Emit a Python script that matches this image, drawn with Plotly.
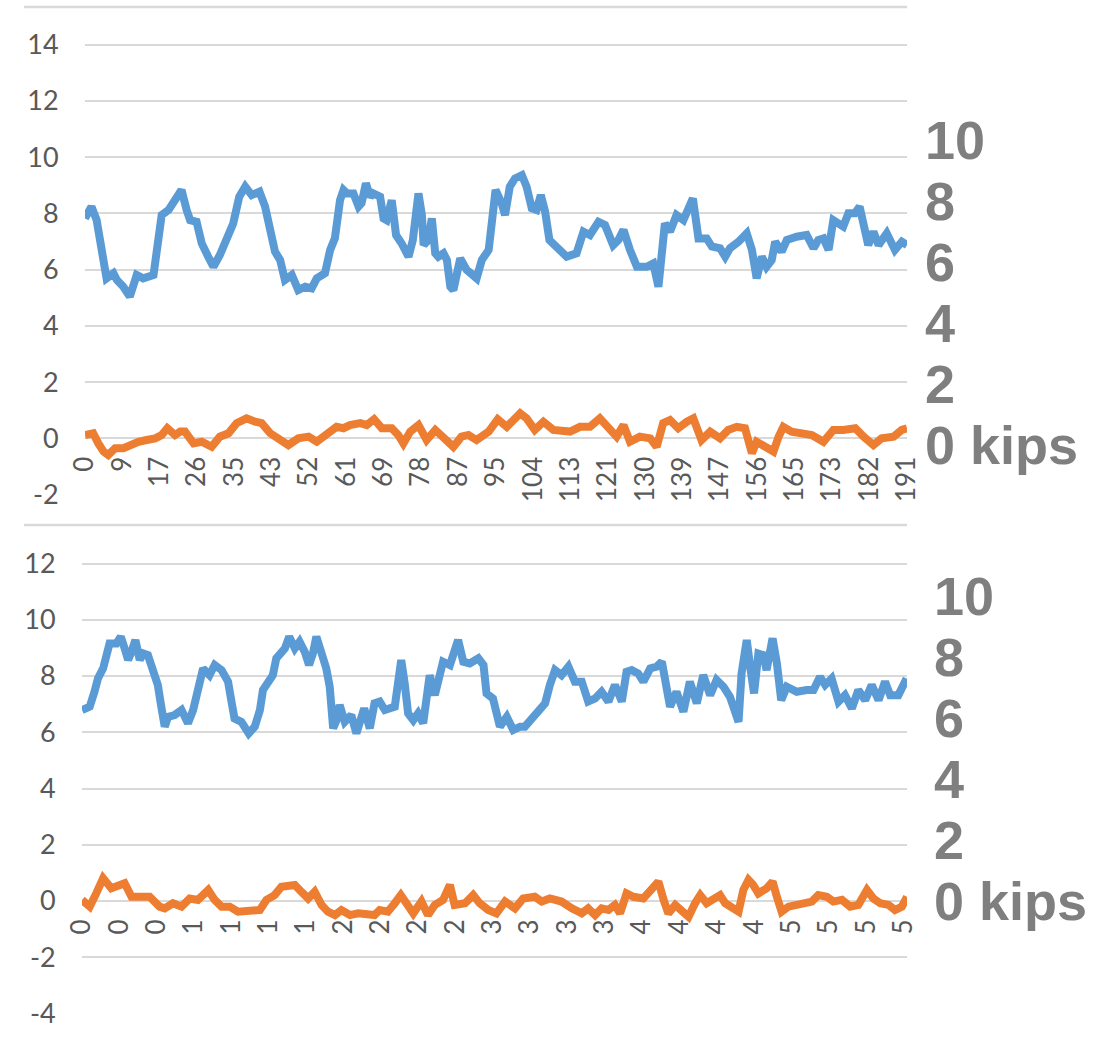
import plotly.graph_objects as go

# ---------------- data ----------------
# top chart (x in samples)
top_blue_x = [0, 1.5, 2.7, 5, 6.6, 7.4, 8.9, 10.4, 12, 13.5,
              15.9, 17, 17.8, 19.4, 21.3, 22.4, 23.6, 24.4, 25.9, 27.1,
              28.6, 29.8, 31.3, 32.9, 34.4, 35.8, 37.2, 38.7, 40.5, 41.8,
              43, 44.1, 45.3, 46.4, 48, 49.5, 51.1, 52.6, 53.8, 55.7,
              56.9, 58, 59.2, 60, 60.8, 62.3, 63.5, 64.2, 65.2, 66.2,
              66.9, 68.5, 69.3, 70, 71.2, 72.2, 73.5, 75.1, 76.1, 77.4,
              78.2, 78.6, 79.7, 80.5, 81.3, 82, 83.2, 84, 84.8, 85.5,
              87.1, 88.6, 90.9, 92.1, 93.7, 95.3, 96.7, 97.5, 98.6, 99.8,
              101.4, 102.5, 103.7, 104.8, 105.8, 106.8, 107.8, 109.5, 111.8, 114.1,
              115.7, 117.2, 119.2, 120.7, 122.6, 123.8, 125, 126.5, 128.1, 130.4,
              131.9, 133.1, 133.9, 134.6, 135.8, 137.3, 138.9, 140, 141.1, 142.4,
              144.3, 145.5, 147.4, 148.6, 149.7, 151.7, 153.6, 154.8, 155.9, 157.1,
              158.2, 159.4, 160.2, 161.7, 162.9, 165.2, 167.5, 169.1, 170.2, 171.4,
              172.6, 173.7, 174.9, 176, 177.2, 178.7, 179.8, 180.7, 181.8, 183,
              184.2, 186.1, 188, 189.6, 190.8]
top_blue_y = [7.82, 8.24, 7.76, 5.69, 5.87, 5.63, 5.39, 5.04, 5.81, 5.69,
              5.81, 6.93, 7.94, 8.12, 8.59, 8.83, 8.12, 7.76, 7.70, 6.93,
              6.46, 6.10, 6.52, 7.17, 7.64, 8.59, 8.95, 8.65, 8.77, 8.24,
              7.41, 6.64, 6.34, 5.63, 5.81, 5.27, 5.39, 5.33, 5.69, 5.87,
              6.70, 7.11, 8.47, 8.83, 8.71, 8.71, 8.24, 8.36, 9.07, 8.59,
              8.71, 8.59, 7.82, 7.76, 8.47, 7.23, 6.93, 6.46, 7.05, 8.71,
              7.94, 6.87, 7.05, 7.82, 6.58, 6.46, 6.58, 6.34, 5.39, 5.27,
              6.40, 5.99, 5.69, 6.34, 6.70, 8.83, 8.36, 7.94, 8.95, 9.24,
              9.36, 8.95, 8.18, 8.12, 8.65, 8.06, 7.05, 6.82, 6.46, 6.58,
              7.35, 7.23, 7.70, 7.59, 6.87, 7.05, 7.41, 6.70, 6.10, 6.10,
              6.22, 5.39, 6.34, 7.64, 7.35, 7.94, 7.76, 8.12, 8.53, 7.11,
              7.11, 6.82, 6.76, 6.46, 6.76, 6.99, 7.29, 6.70, 5.69, 6.46,
              6.10, 6.34, 6.99, 6.64, 7.05, 7.17, 7.23, 6.76, 7.05, 7.11,
              6.70, 7.76, 7.64, 7.53, 8.00, 8.00, 8.24, 7.64, 6.87, 7.35,
              6.87, 7.29, 6.70, 6.99, 6.87]

top_orange_x = [0, 1.9, 3.1, 4.3, 5.4, 7, 8.9, 10.4, 12.4, 14.3,
                16.3, 17.8, 19.1, 20.9, 22.1, 23.2, 25.2, 27.1, 29.4, 31.3,
                33.3, 35.2, 37.5, 39.5, 41, 43, 45.3, 47.2, 49.5, 51.9,
                53.8, 56.1, 58.4, 60, 61.5, 63.9, 65.4, 67.1, 68.9, 71.2,
                72.7, 73.9, 75.5, 77.4, 79.3, 81.3, 83.6, 85.5, 87.4, 89,
                90.9, 93.7, 95.8, 97.9, 101, 102.5, 104.4, 106.4, 108.7, 112.6,
                114.9, 117.2, 119.5, 121.5, 123.4, 125, 126.5, 128.8, 131.2, 132.7,
                134.2, 135.8, 137.7, 139.7, 141.2, 143.1, 145.1, 147.4, 149.3, 151.3,
                153.2, 154.8, 155.9, 157.9, 159.8, 161, 162.1, 164, 166.4, 168.7,
                171.4, 173.7, 176, 178.8, 180.7, 183, 184.9, 187.7, 189.6, 190.8]
top_orange_y = [0.12, 0.18, -0.18, -0.47, -0.59, -0.35, -0.35, -0.24, -0.12, -0.06,
                0.00, 0.12, 0.36, 0.12, 0.24, 0.24, -0.18, -0.12, -0.30, 0.06,
                0.18, 0.54, 0.71, 0.59, 0.54, 0.18, -0.06, -0.24, 0.00, 0.06,
                -0.12, 0.18, 0.41, 0.36, 0.47, 0.54, 0.47, 0.68, 0.36, 0.36,
                0.12, -0.18, 0.24, 0.47, -0.06, 0.30, -0.06, -0.30, 0.06, 0.12,
                -0.06, 0.24, 0.68, 0.41, 0.89, 0.71, 0.30, 0.59, 0.30, 0.24,
                0.41, 0.41, 0.71, 0.36, 0.06, 0.47, -0.12, 0.06, 0.00, -0.30,
                0.54, 0.65, 0.36, 0.59, 0.71, -0.06, 0.24, 0.00, 0.30, 0.41,
                0.36, -0.53, -0.12, -0.30, -0.47, 0.06, 0.41, 0.24, 0.18, 0.12,
                -0.12, 0.30, 0.30, 0.36, 0.06, -0.24, 0.00, 0.06, 0.30, 0.36]

# bottom chart
bot_blue_x = [0, 1.8, 2.9, 3.7, 4.9, 5.6, 6.4, 8, 9, 9.9,
              10.7, 11.5, 12.4, 13.4, 14.2, 15.3, 16.5, 17.6, 18.4, 19.2,
              20, 21.5, 23.1, 24.6, 25.8, 26.9, 28.1, 29.6, 30.8, 32.4,
              33.9, 34.7, 35.4, 37, 37.8, 38.7, 40.1, 41.3, 42, 43.2,
              44.3, 45.1, 46.3, 47.1, 48.1, 49.4, 50.5, 51.7, 52.7, 53.6,
              54.4, 55.6, 56.7, 57.5, 58.3, 59.1, 59.8, 61, 62.5, 63.7,
              64.5, 65.5, 66.8, 67.9, 69.1, 70.3, 72.6, 73.4, 74.1, 74.9,
              75.7, 76.9, 78, 79.2, 80, 80.7, 81.9, 82.7, 83.8, 85.4,
              86.5, 87.3, 88.5, 90, 92, 93.2, 93.9, 95.4, 97, 98.6,
              100.1, 101.7, 102.8, 104.4, 105.9, 107.5, 108.6, 109.8, 111.3, 112.9,
              114.4, 116, 117.5, 119.1, 120.6, 122.2, 123.7, 125.3, 126.4, 127.6,
              129.1, 130.3, 131.9, 133.4, 134.6, 135.7, 136.5, 138, 139.6, 141.1,
              142.7, 144.2, 145.8, 147.3, 148.9, 150.4, 151.6, 152.4, 153.1, 154.3,
              155.1, 156, 157, 158.2, 158.9, 160.3, 161.3, 162.3, 163.6, 165.9,
              168.2, 169.8, 171.3, 172.5, 174, 175.6, 177.1, 178.7, 180.2, 181.8,
              183.3, 184.9, 186.4, 187.6, 189.5, 191.4]
bot_blue_y = [6.79, 6.91, 7.44, 7.91, 8.27, 8.86, 9.16, 9.16, 9.40, 8.98,
              8.57, 8.86, 9.28, 8.57, 8.80, 8.74, 8.21, 7.68, 6.91, 6.20,
              6.55, 6.61, 6.79, 6.32, 6.79, 7.62, 8.27, 8.03, 8.39, 8.21,
              7.80, 7.09, 6.49, 6.37, 6.14, 5.96, 6.20, 6.79, 7.50, 7.80,
              8.03, 8.63, 8.80, 8.98, 9.40, 8.98, 9.22, 8.86, 8.39, 8.80,
              9.40, 8.86, 8.27, 7.62, 6.14, 6.43, 6.97, 6.37, 6.61, 5.96,
              6.43, 6.85, 6.14, 7.03, 7.09, 6.79, 6.91, 7.91, 8.57, 7.74,
              6.67, 6.43, 6.67, 6.32, 7.26, 8.03, 7.32, 7.74, 8.51, 8.39,
              8.98, 9.28, 8.51, 8.45, 8.63, 8.39, 7.38, 7.20, 6.20, 6.55,
              6.08, 6.20, 6.20, 6.49, 6.79, 7.03, 7.68, 8.21, 8.03, 8.33,
              7.80, 7.80, 7.09, 7.20, 7.44, 7.09, 7.68, 7.09, 8.15, 8.21,
              8.09, 7.80, 8.27, 8.33, 8.51, 7.62, 6.91, 7.44, 6.73, 7.80,
              7.03, 8.03, 7.32, 7.86, 7.62, 7.26, 6.73, 6.37, 8.09, 9.28,
              8.33, 7.38, 8.80, 8.74, 8.21, 9.34, 8.45, 7.14, 7.62, 7.44,
              7.50, 7.50, 7.97, 7.68, 7.91, 7.09, 7.32, 6.85, 7.50, 7.14,
              7.68, 7.14, 7.80, 7.32, 7.32, 7.91]

bot_orange_x = [0, 1.8, 3.3, 4.9, 6.8, 8.7, 9.9, 11.5, 13.4, 15.7,
                18, 19.2, 21.1, 23.1, 25, 26.9, 29.3, 30.8, 32.4, 34.3,
                36.2, 38.5, 41.3, 42.8, 44.7, 46.3, 47.8, 49.4, 50.9, 52.5,
                54, 55.6, 57.1, 58.7, 60.2, 62.2, 64.1, 66.4, 67.9, 69.1,
                71, 72.6, 74, 75.3, 76.9, 78.8, 80.3, 81.9, 83.8, 85.4,
                86.5, 88.9, 90.8, 92.3, 94.3, 96.2, 98.2, 100.5, 102.4, 105.1,
                106.7, 108.6, 111.3, 113.7, 116, 117.5, 119.1, 120.6, 122.2, 123.7,
                124.9, 126.4, 128, 130.3, 131.9, 133.8, 135, 136.1, 137.7, 139.2,
                140.8, 142.3, 143.5, 145, 146.6, 148.1, 149.3, 150.8, 152.4, 153.5,
                154.7, 155.8, 157, 158.9, 160.3, 161.3, 162.4, 164, 165.9, 167.8,
                169.4, 170.9, 172.9, 174.4, 176.4, 178.3, 180.2, 182.2, 183.7, 185.3,
                187.2, 188.7, 190.3, 191.5]
bot_orange_y = [0.04, -0.20, 0.27, 0.81, 0.45, 0.57, 0.63, 0.15, 0.15, 0.15,
                -0.20, -0.26, -0.08, -0.20, 0.09, 0.04, 0.39, 0.04, -0.20, -0.20,
                -0.38, -0.38, -0.32, 0.04, 0.21, 0.51, 0.57, 0.57, 0.33, 0.09,
                0.33, -0.14, -0.38, -0.50, -0.32, -0.50, -0.44, -0.44, -0.50, -0.32,
                -0.38, -0.08, 0.21, -0.08, -0.44, -0.02, -0.50, -0.14, 0.04, 0.57,
                -0.14, -0.08, 0.21, -0.08, -0.32, -0.44, -0.02, -0.26, 0.09, 0.15,
                -0.02, 0.09, -0.02, -0.26, -0.44, -0.26, -0.50, -0.26, -0.32, -0.14,
                -0.44, 0.27, 0.15, 0.09, 0.33, 0.69, 0.04, -0.44, -0.14, -0.32,
                -0.56, -0.08, 0.21, -0.08, 0.04, 0.21, -0.08, -0.26, -0.38, 0.39,
                0.75, 0.57, 0.27, 0.45, 0.69, 0.15, -0.38, -0.20, -0.14, -0.08,
                -0.02, 0.21, 0.15, -0.02, 0.04, -0.20, -0.14, 0.39, 0.09, -0.08,
                -0.14, -0.32, -0.20, 0.15]

# tick labels
label_step = 26 / 3
top_x_labels = ["0", "9", "17", "26", "35", "43", "52", "61", "69", "78", "87", "95",
                "104", "113", "121", "130", "139", "147", "156", "165", "173", "182", "191"]
bot_x_labels = ["0", "0", "0", "1", "1", "1", "1", "2", "2", "2", "2", "3",
                "3", "3", "3", "4", "4", "4", "4", "5", "5", "5", "5"]
top_y_ticks = [-2, 0, 2, 4, 6, 8, 10, 12, 14]
bot_y_ticks = [-4, -2, 0, 2, 4, 6, 8, 10, 12]
kips_labels = ["10", "8", "6", "4", "2", "0 kips"]

# ---------------- layout helpers ----------------
W, H = 1107, 1047
BLUE, ORANGE = "#5b9bd5", "#ed7d31"
GRID = "#d9d9d9"
TICKC = "#595959"
FONT = "Lato, Open Sans, sans-serif"
KFONT = "Liberation Sans, Arial, sans-serif"
LW = 8


def fx(p):
    return p / W


def fy(p):
    return 1 - p / H


top_yr = [-2, 14 + 44.6 / 28.125]
top_ydom = [fy(494.6), 1.0]
bot_yr = [-4, 12 + (563.5 - 530) / 28.125]
bot_ydom = [fy(1013.5), fy(530)]


def zero_pos(yr, dom):
    return dom[0] + (0 - yr[0]) / (yr[1] - yr[0]) * (dom[1] - dom[0])


tickvals_x = [i * label_step for i in range(len(top_x_labels))]

fig = go.Figure()
fig.add_trace(go.Scatter(x=top_blue_x, y=top_blue_y, mode="lines",
                         line=dict(color=BLUE, width=LW), xaxis="x", yaxis="y"))
fig.add_trace(go.Scatter(x=top_orange_x, y=top_orange_y, mode="lines",
                         line=dict(color=ORANGE, width=LW), xaxis="x", yaxis="y"))
fig.add_trace(go.Scatter(x=bot_blue_x, y=bot_blue_y, mode="lines",
                         line=dict(color=BLUE, width=LW), xaxis="x2", yaxis="y2"))
fig.add_trace(go.Scatter(x=bot_orange_x, y=bot_orange_y, mode="lines",
                         line=dict(color=ORANGE, width=LW), xaxis="x2", yaxis="y2"))

xcommon = dict(showgrid=False, zeroline=False, showline=False, tickangle=-90,
               ticks="outside", ticklen=7, tickcolor="rgba(0,0,0,0)",
               tickfont=dict(family=FONT, size=26, color=TICKC), automargin=False,
               tickmode="array", tickvals=tickvals_x, anchor="free")
ycommon = dict(showgrid=True, gridcolor=GRID, gridwidth=2, zeroline=False,
               showline=False, ticks="outside", ticklen=20, automargin=False,
               tickcolor="rgba(0,0,0,0)",
               tickfont=dict(family=FONT, size=27, color=TICKC), tickmode="array")

fig.update_layout(
    width=W, height=H,
    margin=dict(l=0, r=0, t=0, b=0, autoexpand=False),
    paper_bgcolor="white", plot_bgcolor="white",
    showlegend=False, hovermode=False,
    xaxis=dict(xcommon, domain=[fx(85), fx(907)], range=[0, 190.8],
               ticktext=top_x_labels, position=zero_pos(top_yr, top_ydom)),
    yaxis=dict(ycommon, domain=top_ydom, range=top_yr, anchor="x",
               tickvals=top_y_ticks, ticktext=[str(v) for v in top_y_ticks]),
    xaxis2=dict(xcommon, domain=[fx(82), fx(907)], range=[0, 191.5],
                ticktext=bot_x_labels, position=zero_pos(bot_yr, bot_ydom)),
    yaxis2=dict(ycommon, domain=bot_ydom, range=bot_yr, anchor="x2",
                tickvals=bot_y_ticks, ticktext=[str(v) for v in bot_y_ticks]),
)

# chart border lines
for yp in (7, 525):
    fig.add_shape(type="line", xref="paper", yref="paper",
                  x0=fx(24), x1=fx(907), y0=fy(yp), y1=fy(yp),
                  line=dict(color=GRID, width=2.5), layer="below")

# kips annotations
top_ann_y = [140, 201, 262, 323, 384, 445]
bot_ann_y = [596, 657, 718, 779, 840, 901]
for txt, yp in zip(kips_labels, top_ann_y):
    fig.add_annotation(text="<b>%s</b>" % txt, xref="paper", yref="paper",
                       x=fx(924), y=fy(yp), xanchor="left", yanchor="middle",
                       showarrow=False, borderpad=0,
                       font=dict(family=KFONT, size=54, color="#7f7f7f"))
for txt, yp in zip(kips_labels, bot_ann_y):
    fig.add_annotation(text="<b>%s</b>" % txt, xref="paper", yref="paper",
                       x=fx(933), y=fy(yp), xanchor="left", yanchor="middle",
                       showarrow=False, borderpad=0,
                       font=dict(family=KFONT, size=54, color="#7f7f7f"))

fig.write_html("out.html", config={"displayModeBar": False},
               post_script="document.body.style.margin='0';"
                           "document.body.style.overflow='hidden';")
